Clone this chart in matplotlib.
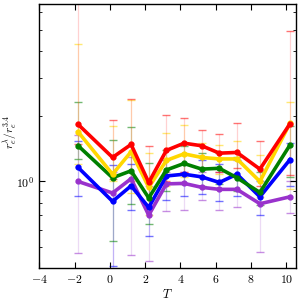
import numpy as np
import matplotlib
matplotlib.use("Agg")
import matplotlib.pyplot as plt
from matplotlib.ticker import NullFormatter, FuncFormatter, FixedLocator

plt.rcParams['font.family'] = 'serif'
plt.rcParams['font.serif'] = ['cmr10', 'DejaVu Serif']
plt.rcParams['mathtext.fontset'] = 'cm'
plt.rcParams['axes.formatter.use_mathtext'] = True
plt.rcParams['axes.unicode_minus'] = False

T = [-1.8, 0.15, 1.2, 2.2, 3.2, 4.2, 5.2, 6.2, 7.2, 8.5, 10.2]

red = [1.83, 1.29, 1.48, 0.99, 1.39, 1.50, 1.46, 1.35, 1.36, 1.14, 1.84]
red_up = [8.0, 1.92, 2.40, 1.46, 2.02, 1.96, 1.73, 1.65, 1.86, 1.54, 4.91]
red_lo = [1.49, 1.03, 1.00, 0.75, 1.00, 1.10, 1.15, 1.10, 1.15, 0.95, 1.07]

yellow = [1.69, 1.08, 1.37, 0.94, 1.25, 1.34, 1.29, 1.27, 1.27, 1.00, 1.85]
yellow_up = [4.31, 1.80, 2.37, 1.35, 1.68, 1.82, 1.50, 1.47, 1.54, 1.33, 2.31]
yellow_lo = [1.20, 1.00, 0.885, 0.70, 0.95, 1.05, 1.05, 1.08, 1.05, 0.85, 0.92]

green = [1.46, 1.04, 1.12, 0.84, 1.13, 1.21, 1.14, 1.15, 1.04, 0.89, 1.47]
green_up = [2.32, 1.55, 1.78, 1.21, 1.39, 1.45, 1.35, 1.35, 1.30, 1.10, 1.80]
green_lo = [1.27, 0.53, 0.79, 0.64, 0.90, 0.97, 0.95, 0.97, 0.90, 0.78, 1.05]

blue = [1.16, 0.81, 0.955, 0.76, 1.06, 1.08, 1.05, 0.99, 1.08, 0.85, 1.26]
blue_up = [1.54, 1.19, 1.20, 1.00, 1.25, 1.20, 1.25, 1.20, 1.25, 1.00, 1.50]
blue_lo = [0.86, 0.41, 0.74, 0.56, 0.82, 0.86, 0.88, 0.81, 0.86, 0.70, 0.95]

purple = [1.00, 0.885, 1.03, 0.70, 0.975, 0.98, 0.94, 0.92, 0.92, 0.79, 0.85]
purple_up = [1.64, 1.10, 1.30, 0.95, 1.10, 1.10, 1.10, 1.10, 1.05, 0.90, 1.00]
purple_lo = [0.47, 0.39, 0.46, 0.43, 0.73, 0.74, 0.82, 0.74, 0.76, 0.475, 0.72]

series = [
    (purple, purple_lo, purple_up, '#9932CC'),
    (blue, blue_lo, blue_up, '#0000FF'),
    (green, green_lo, green_up, '#008000'),
    (yellow, yellow_lo, yellow_up, '#FFD700'),
    (red, red_lo, red_up, '#FF0000'),
]

fig = plt.figure(figsize=(3.0, 3.02), dpi=100)
ax = fig.add_axes([0.131, 0.1126, 0.856, 0.874])

for vals, lo, up, c in series:
    v = np.array(vals); l = np.array(lo); u = np.array(up)
    yerr = np.vstack([v - l, u - v])
    _, caps, bars = ax.errorbar(T, v, yerr=yerr, fmt='none', ecolor=c,
                                elinewidth=0.9, capsize=2.8, capthick=1.0, zorder=1)
    for b in bars:
        b.set_alpha(0.18)
    for cp in caps:
        cp.set_alpha(0.55)

for vals, lo, up, c in series:
    ax.plot(T, vals, '-o', color=c, lw=2.6, ms=3.5, zorder=3)

ax.set_yscale('log')
ax.set_xlim(-4, 10.55)
ax.set_ylim(0.4, 6.55)
ax.set_xticks([-4, -2, 0, 2, 4, 6, 8, 10])
ax.xaxis.set_major_formatter(FuncFormatter(lambda v, p: r'$%d$' % int(round(v))))
ax.yaxis.set_major_locator(FixedLocator([1.0]))
ax.yaxis.set_major_formatter(FuncFormatter(lambda v, p: r'$10^{0}$'))
ax.yaxis.set_minor_locator(FixedLocator([0.5, 0.6, 0.7, 0.8, 0.9, 2, 3, 4, 5, 6]))
ax.yaxis.set_minor_formatter(NullFormatter())
ax.tick_params(which='both', direction='in', top=True, right=True, labelsize=8.5)
ax.tick_params(which='major', length=4, width=0.8)
ax.tick_params(which='minor', length=2.5, width=0.6)
for s in ax.spines.values():
    s.set_linewidth(1.0)

ax.set_xlabel(r'$T$', fontsize=9, labelpad=2)
ax.set_ylabel(r'$r_e^{\lambda}/r_e^{3.4}$', fontsize=8)
ax.yaxis.set_label_coords(-0.075, 0.517)

fig.savefig('out.png', dpi=100)
